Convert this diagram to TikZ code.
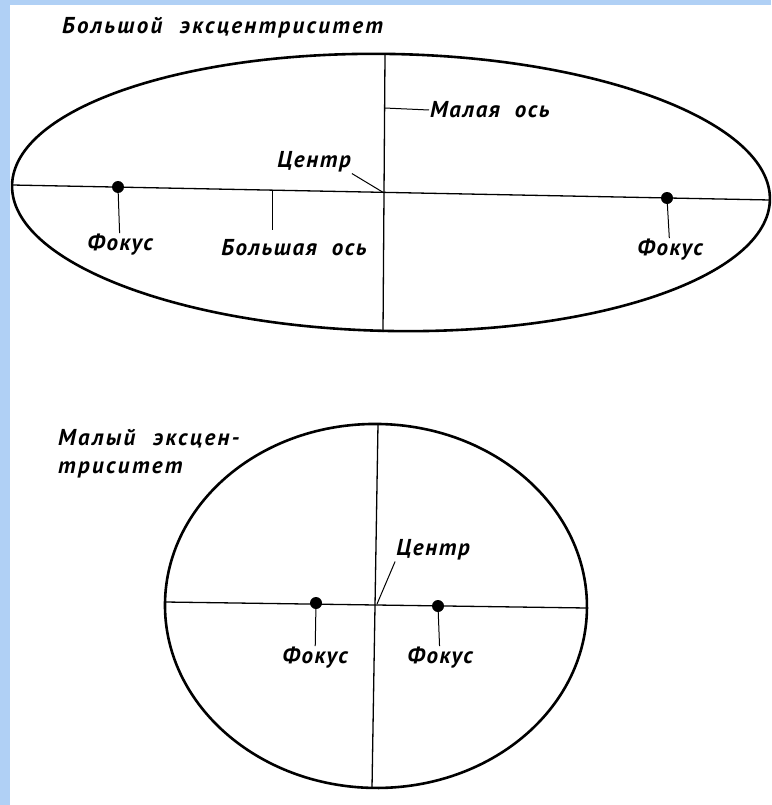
\documentclass[tikz,border=0pt]{standalone}
\usepackage{fontspec}
\setmainfont{PT Sans}
\newfontfamily\lblfont[LetterSpace=7,WordSpace=2]{PT Sans}
\newfontfamily\headfont[LetterSpace=10,WordSpace=2.2]{PT Sans}
\usetikzlibrary{positioning}
\definecolor{framecol}{RGB}{176,208,245}
\tikzset{
  orbit/.style = {draw=black, line width=2.6pt},
  axis/.style  = {draw=black, line width=1.3pt},
  lead/.style  = {draw=black, line width=1pt},
  focus/.style = {circle, fill=black, inner sep=0pt, minimum size=12pt},
  lbl/.style   = {font=\lblfont\bfseries\itshape\fontsize{23}{28}\selectfont,
                  inner sep=1pt, align=left},
  head/.style  = {lbl, font=\headfont\bfseries\itshape\fontsize{23}{28}\selectfont},
}

\begin{document}
\begin{tikzpicture}[x=1pt, y=-1pt]
  \useasboundingbox (0,0) rectangle (771,805);
  \fill[framecol] (0,0) rectangle (10,805);
  \fill[framecol] (0,0) rectangle (771,5);

  % large eccentricity
  \coordinate (e1) at (391,192.5);
  \coordinate (a1l) at (12,185);  \coordinate (a1r) at (770,200);
  \coordinate (b1t) at (385,55);  \coordinate (b1b) at (383,332);
  \coordinate (c1) at (383,192.3);
  \draw[orbit, rotate around={-1.1:(e1)}] (e1) ellipse [x radius=379pt, y radius=138.5pt];
  \draw[axis] (a1l) -- (a1r);
  \draw[axis] (b1t) -- (b1b);
  \node[focus] (f1) at (118,187) {};
  \node[focus] (f2) at (667,198) {};

  \node[head, anchor=west] (title1) at (61,28) {Большой эксцентриситет};
  \node[lbl] (fl1) at (120,245) {Фокус};
  \node[lbl] (fl2) at (670,250) {Фокус};
  \node[lbl] (major) at (294,248) {Большая ось};
  \node[lbl] (cent1) at (314,162) {Центр};
  \node[lbl, anchor=west] (minor) at (429,110) {Малая ось};
  \coordinate (mt1) at (272,190.5);
  \coordinate (mt2) at (272,230);
  \coordinate (ml) at (384.5,108);

  \draw[lead] (f1) -- (fl1);
  \draw[lead] (f2) -- (fl2);
  \draw[lead] (mt1) -- (mt2);
  \draw[lead] (cent1.south east) -- (c1);
  \draw[lead] (ml) -- (minor.west);

  % small eccentricity
  \coordinate (e2) at (376,606);
  \coordinate (a2l) at (165,602); \coordinate (a2r) at (587,608);
  \coordinate (b2t) at (378,424); \coordinate (b2b) at (372,788);
  \coordinate (c2) at (377,604);
  \draw[orbit, rotate around={-0.8:(e2)}] (e2) ellipse [x radius=211pt, y radius=182pt];
  \draw[axis] (a2l) -- (a2r);
  \draw[axis] (b2t) -- (b2b);
  \node[focus] (f3) at (316,603) {};
  \node[focus] (f4) at (438,606) {};

  \node[head, anchor=north west] (title2) at (57,428) {Малый эксцен-\\триситет};
  \node[lbl] (fl3) at (315,658) {Фокус};
  \node[lbl] (fl4) at (440,658) {Фокус};
  \node[lbl] (cent2) at (433,550) {Центр};

  \draw[lead] (f3) -- (fl3);
  \draw[lead] (f4) -- (fl4);
  \draw[lead] (cent2.south west) -- (c2);
\end{tikzpicture}
\end{document}
